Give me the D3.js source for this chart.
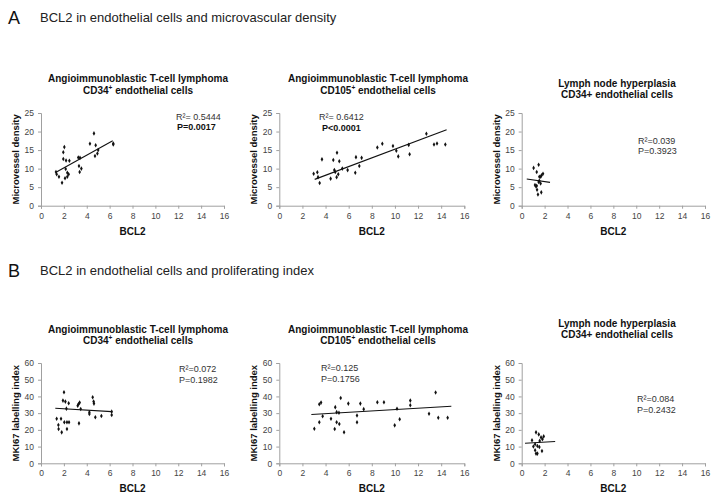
<!DOCTYPE html>
<html><head><meta charset="utf-8">
<script src="https://cdn.jsdelivr.net/npm/d3@7"></script>
<style>
body{margin:0;background:#fff}
svg{font-family:"Liberation Sans",Arial,Helvetica,sans-serif;display:block}
</style>
</head><body>
<svg id="chart" width="714" height="498"></svg>
<script>
// ---------- data ----------
const xTickValues = [0, 2, 4, 6, 8, 10, 12, 14, 16];
const mvdTickValues = [0, 5, 10, 15, 20, 25];
const mkiTickValues = [0, 10, 20, 30, 40, 50, 60];

// Panel A1: AITL CD34+ (BCL2 vs microvessel density)
const a1Bcl2 = [4.63, 2.04, 1.95, 1.95, 2.19, 2.48, 4.28, 4.78, 6.32, 6.32, 5.0, 4.93, 4.72, 3.26, 3.41, 3.32, 3.53, 3.38, 2.16, 2.3, 2.42, 1.31, 1.37, 1.57, 2.3, 2.1, 1.84];
const a1Mvd  = [19.5, 15.8, 14.4, 12.6, 12.2, 12.1, 16.7, 16.3, 16.8, 16.5, 15.0, 14.1, 13.4, 13.0, 12.9, 10.7, 10.0, 9.1, 9.9, 8.9, 8.5, 9.1, 8.5, 7.8, 7.8, 7.4, 6.2];
const a1FitX = [1.31, 6.27];
const a1FitY = [9.0, 17.5];

// Panel A2: AITL CD105+
const a2Bcl2 = [2.97, 3.29, 3.35, 3.49, 3.69, 4.67, 4.99, 5.19, 4.44, 4.76, 4.84, 4.96, 5.1, 5.45, 5.91, 6.57, 6.63, 6.92, 7.12, 8.48, 8.91, 9.83, 10.12, 10.29, 11.19, 11.27, 12.72, 13.38, 13.64, 14.36];
const a2Mvd  = [8.6, 9.0, 7.7, 6.1, 12.5, 12.3, 14.3, 12.0, 7.3, 9.6, 9.1, 7.7, 8.5, 10.0, 9.6, 8.9, 13.1, 10.7, 12.9, 15.7, 16.7, 16.1, 14.8, 13.3, 16.4, 13.9, 19.4, 16.5, 16.8, 16.5];
const a2FitX = [3.06, 14.47];
const a2FitY = [7.1, 20.5];

// Panel A3: lymph node hyperplasia CD34+
const a3Bcl2 = [1.48, 1.04, 1.31, 1.86, 1.74, 1.54, 1.66, 1.54, 1.48, 1.65, 1.16, 1.31, 1.25, 1.34, 1.71, 1.42];
const a3Mvd  = [11.05, 10.2, 9.1, 8.6, 8.2, 7.8, 7.8, 6.7, 6.4, 6.0, 5.6, 5.4, 5.2, 4.3, 3.6, 3.0];
const a3FitX = [0.44, 2.47];
const a3FitY = [7.2, 6.3];

// Panel B1: AITL CD34+ (BCL2 vs MKI67)
const b1Bcl2 = [2.01, 1.92, 2.13, 2.42, 3.21, 3.29, 3.38, 4.52, 4.6, 4.63, 3.47, 2.22, 4.23, 4.23, 4.75, 5.28, 6.18, 6.18, 1.37, 1.75, 2.04, 2.27, 2.45, 3.32, 1.52, 1.54, 2.27, 1.81];
const b1Mki  = [42.5, 37.5, 36.9, 35.9, 34.5, 35.5, 36.3, 39.5, 36.9, 35.7, 32.5, 32.7, 30.5, 29.5, 27.5, 28.3, 30.9, 28.9, 26.7, 26.7, 24.5, 24.5, 24.5, 23.9, 22.9, 20.5, 20.5, 18.5];
const b1FitX = [1.25, 6.18];
const b1FitY = [32.9, 30.9];

// Panel B2: AITL CD105+
const b2Bcl2 = [3.03, 3.46, 3.46, 3.61, 3.75, 4.47, 4.79, 4.84, 4.96, 5.16, 4.96, 5.19, 5.31, 5.6, 5.97, 6.72, 6.72, 7.01, 7.3, 8.48, 9.05, 9.98, 10.18, 10.41, 11.33, 11.33, 12.95, 13.52, 13.75, 14.56];
const b2Mki  = [20.7, 24.5, 35.3, 36.3, 28.2, 26.6, 20.5, 33.6, 30.6, 30.2, 24.5, 23.5, 39.1, 18.6, 35.7, 28.6, 24.5, 35.7, 32.4, 36.5, 36.5, 22.7, 32.6, 26.4, 37.5, 34.7, 29.6, 42.4, 27.2, 27.2];
const b2FitX = [2.77, 14.88];
const b2FitY = [29.2, 34.1];

// Panel B3: lymph node hyperplasia CD34+
const b3Bcl2 = [1.25, 1.49, 1.69, 1.92, 1.81, 0.9, 1.57, 1.17, 1.02, 1.37, 1.54, 1.17, 1.77, 1.25, 1.37];
const b3Mki  = [18.5, 17.3, 15.5, 16.1, 14.4, 13.8, 13.4, 11.4, 10.0, 10.4, 9.8, 7.8, 7.4, 5.8, 5.8];
const b3FitX = [0.29, 2.92];
const b3FitY = [12.0, 13.0];

const sectionLetters = ["A", "B"];
const sectionTitles = ["BCL2 in endothelial cells and microvascular density", "BCL2 in endothelial cells and proliferating index"];
const xLabel = "BCL2";
const yLabels = ["Microvessel density", "MKI67 labelling index"];

// ---------- layout ----------
const svg = d3.select("#chart");
const FONT = '"Liberation Sans",Arial,Helvetica,sans-serif';

const colX = [[41, 224], [279.3, 464.3], [521.7, 705]];
const rowY = [[205.7, 113], [463.3, 363]];

const panels = [
  {row:0, col:0, xs:a1Bcl2, ys:a1Mvd, fx:a1FitX, fy:a1FitY, yTicks:mvdTickValues, yMax:25,
   title:["Angioimmunoblastic T-cell lymphoma", ["CD34", "+", " endothelial cells"]], titleY:[82, 94],
   stats:[{t:"R²= 0.5444", b:false, x:176, y:119.5}, {t:"P=0.0017", b:true, x:177, y:130}]},
  {row:0, col:1, xs:a2Bcl2, ys:a2Mvd, fx:a2FitX, fy:a2FitY, yTicks:mvdTickValues, yMax:25,
   title:["Angioimmunoblastic T-cell lymphoma", ["CD105", "+", " endothelial cells"]], titleY:[82, 94],
   stats:[{t:"R²= 0.6412", b:false, x:319, y:120}, {t:"P<0.0001", b:true, x:322, y:130.5}]},
  {row:0, col:2, xs:a3Bcl2, ys:a3Mvd, fx:a3FitX, fy:a3FitY, yTicks:mvdTickValues, yMax:25,
   title:["Lymph node hyperplasia", ["CD34+ endothelial cells", "", ""]], titleY:[87, 98],
   stats:[{t:"R²=0.039", b:false, x:638, y:143.5}, {t:"P=0.3923", b:false, x:638, y:154}]},
  {row:1, col:0, xs:b1Bcl2, ys:b1Mki, fx:b1FitX, fy:b1FitY, yTicks:mkiTickValues, yMax:60,
   title:["Angioimmunoblastic T-cell lymphoma", ["CD34", "+", " endothelial cells"]], titleY:[333, 344],
   stats:[{t:"R²=0.072", b:false, x:179, y:372}, {t:"P=0.1982", b:false, x:179, y:382.5}]},
  {row:1, col:1, xs:b2Bcl2, ys:b2Mki, fx:b2FitX, fy:b2FitY, yTicks:mkiTickValues, yMax:60,
   title:["Angioimmunoblastic T-cell lymphoma", ["CD105", "+", " endothelial cells"]], titleY:[333, 344],
   stats:[{t:"R²=0.125", b:false, x:321, y:371}, {t:"P=0.1756", b:false, x:321, y:381.5}]},
  {row:1, col:2, xs:b3Bcl2, ys:b3Mki, fx:b3FitX, fy:b3FitY, yTicks:mkiTickValues, yMax:60,
   title:["Lymph node hyperplasia", ["CD34+ endothelial cells", "", ""]], titleY:[327, 338],
   stats:[{t:"R²=0.084", b:false, x:637, y:402}, {t:"P=0.2432", b:false, x:637, y:412.5}]}
];

// section headers
const secY = [24, 277];
sectionLetters.forEach((L, i) => {
  svg.append("text").attr("x", 8).attr("y", secY[i]).attr("font-size", 18)
    .attr("font-family", FONT).attr("fill", "#111").text(L);
  svg.append("text").attr("x", 40).attr("y", secY[i] - 2).attr("font-size", 13)
    .attr("font-family", FONT).attr("fill", "#222").text(sectionTitles[i]);
});

const AXIS_COL = "#a0a0a0";
const TICK_TXT = "#444";

panels.forEach(p => {
  const xr = colX[p.col], yr = rowY[p.row];
  const x = d3.scaleLinear().domain([0, 16]).range(xr);
  const y = d3.scaleLinear().domain([0, p.yMax]).range(yr);
  const g = svg.append("g");

  // x axis
  const xa = g.append("g").attr("transform", `translate(0,${yr[0]})`)
    .call(d3.axisBottom(x).tickValues(xTickValues).tickSize(3).tickPadding(4).tickFormat(d3.format("d")));
  // y axis
  const ya = g.append("g").attr("transform", `translate(${xr[0]},0)`)
    .call(d3.axisLeft(y).tickValues(p.yTicks).tickSize(3).tickPadding(4).tickFormat(d3.format("d")));
  [xa, ya].forEach(a => {
    a.select(".domain").attr("stroke", AXIS_COL).attr("stroke-width", 1);
    a.selectAll(".tick line").attr("stroke", AXIS_COL);
    a.selectAll(".tick text").attr("fill", TICK_TXT).attr("font-size", 8.5).attr("font-family", FONT);
  });

  // axis labels
  const cx = (xr[0] + xr[1]) / 2;
  g.append("text").attr("x", cx).attr("y", yr[0] + 29).attr("text-anchor", "middle")
    .attr("font-size", 10).attr("font-weight", "bold").attr("font-family", FONT).attr("fill", "#111").text(xLabel);
  const cy = (yr[0] + yr[1]) / 2;
  g.append("text").attr("transform", `translate(${xr[0] - 22},${cy}) rotate(-90)`)
    .attr("text-anchor", "middle").attr("font-size", 9.5).attr("font-weight", "bold")
    .attr("font-family", FONT).attr("fill", "#111").text(yLabels[p.row]);

  // titles
  const tcx = p.col === 0 ? 138 : p.col === 1 ? 378 : 617;
  g.append("text").attr("x", tcx).attr("y", p.titleY[0]).attr("text-anchor", "middle")
    .attr("font-size", 10).attr("font-weight", "bold").attr("font-family", FONT).attr("fill", "#111")
    .text(p.title[0]);
  const t2 = g.append("text").attr("x", tcx).attr("y", p.titleY[1]).attr("text-anchor", "middle")
    .attr("font-size", 10).attr("font-weight", "bold").attr("font-family", FONT).attr("fill", "#111");
  t2.append("tspan").text(p.title[1][0]);
  if (p.title[1][1]) {
    t2.append("tspan").attr("font-size", 6.5).attr("dy", -4).text(p.title[1][1]);
    t2.append("tspan").attr("dy", 4).text(p.title[1][2]);
  }

  // stats
  p.stats.forEach(s => {
    g.append("text").attr("x", s.x).attr("y", s.y).attr("text-anchor", "start")
      .attr("font-size", 9).attr("font-weight", s.b ? "bold" : "normal")
      .attr("font-family", FONT).attr("fill", s.b ? "#111" : "#333").text(s.t);
  });

  // trend line
  const fit = p.fx.map((v, i) => [v, p.fy[i]]);
  g.append("path").datum(fit)
    .attr("d", d3.line().x(d => x(d[0])).y(d => y(d[1])))
    .attr("stroke", "#111").attr("stroke-width", 1.1).attr("fill", "none");

  // points
  const pts = p.xs.map((v, i) => [v, p.ys[i]]);
  g.selectAll("path.pt").data(pts).enter().append("path").attr("class", "pt")
    .attr("d", d3.symbol().type(d3.symbolDiamond).size(6))
    .attr("transform", d => `translate(${x(d[0])},${y(d[1])})`)
    .attr("fill", "#111");
});
</script>
</body></html>
